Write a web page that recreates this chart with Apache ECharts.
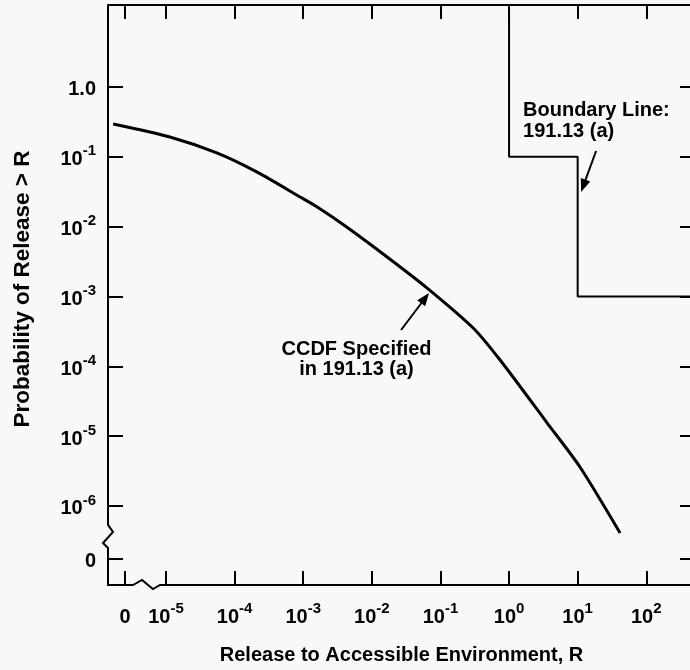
<!DOCTYPE html>
<html><head><meta charset="utf-8">
<script src="https://cdn.jsdelivr.net/npm/echarts@6/dist/echarts.min.js"></script>
<style>html,body{margin:0;padding:0;background:#f8f8f8}#c{width:690px;height:670px}</style>
</head><body><div id="c"></div>
<script>
// ---- data (real values; plotted on log10 scale) ----
const ccdfR = [1.7e-6, 1.14e-5, 5.5e-5, 2.1e-4, 9.0e-4, 1.6e-3, 4.3e-3, 1.67e-2, 6.4e-2, 0.30, 0.74, 3.6, 10.8, 41.5];
const ccdfP = [0.295, 0.192, 0.1135, 0.0607, 0.0266, 0.0191, 0.00989, 0.00368, 0.00132, 3.54e-4, 1.23e-4, 1.54e-5, 3.61e-6, 4.1e-7];
const boundaryR = [1, 1, 10, 10, 1000];
const boundaryP = [100, 0.1, 0.1, 0.001, 0.001];
// tick positions (log10 exponents); "0" is drawn at a nominal position below the break
const xTickExps = [-5, -4, -3, -2, -1, 0, 1, 2];
const yTickExps = [-6, -5, -4, -3, -2, -1, 0];
const xZeroPos = -5.598;
const yZeroPos = -6.759;
// axis extents (log10)
const xMin = -5.845, xMax = 2.71;
const yMin = -7.132, yMax = 1.174;
// axis break (log10 units)
const yBreak = [-6.272, -6.373, -6.530, -6.602];
const xBreak = [-5.481, -5.350, -5.190, -5.087];

const FONT = 'Liberation Sans';
const L = v => Math.log10(v);
const xAll = [xZeroPos].concat(xTickExps);
const yAll = [yZeroPos].concat(yTickExps);
const RICH = {
  n: {fontSize: 20, fontWeight: 'bold', fontFamily: FONT, color: '#000', lineHeight: 26, verticalAlign: 'bottom'},
  s: {fontSize: 15, fontWeight: 'bold', fontFamily: FONT, color: '#000', lineHeight: 26, verticalAlign: 'top'}
};
function fmt(zero, isY) {
  return function (v) {
    if (Math.abs(v - zero) < 1e-6) return '{n|0}';
    if (isY && Math.abs(v) < 1e-9) return '{n|1.0}';
    return '{n|10}{s|' + Math.round(v) + '}';
  };
}
const tickStyle = {color: '#000', width: 2};
const chart = echarts.init(document.getElementById('c'));
chart.setOption({
  backgroundColor: '#f8f8f8',
  animation: false,
  textStyle: {fontFamily: FONT},
  grid: {left: 108, top: 5, width: 587, height: 580, show: false, outerBoundsMode: 'none', containLabel: false},
  xAxis: [{
    type: 'value', position: 'bottom', min: xMin, max: xMax,
    axisLine: {show: false, onZero: false},
    splitLine: {show: false},
    axisTick: {show: true, inside: true, length: 14, lineStyle: tickStyle, customValues: xAll},
    axisLabel: {customValues: xAll, formatter: fmt(xZeroPos, false), margin: 16, rich: RICH},
    name: 'Release to Accessible Environment, R', nameLocation: 'middle', nameGap: 60,
    nameTextStyle: {fontSize: 20, fontWeight: 'bold', color: '#000', fontFamily: FONT}
  }, {
    type: 'value', position: 'top', min: xMin, max: xMax,
    axisLine: {show: true, onZero: false, lineStyle: {color: '#000', width: 2}},
    splitLine: {show: false},
    axisTick: {show: true, inside: true, length: 14, lineStyle: tickStyle, customValues: xAll},
    axisLabel: {show: false}
  }],
  yAxis: [{
    type: 'value', position: 'left', min: yMin, max: yMax,
    axisLine: {show: false, onZero: false},
    splitLine: {show: false},
    axisTick: {show: true, inside: true, length: 15, lineStyle: tickStyle, customValues: yAll},
    axisLabel: {customValues: yAll, formatter: fmt(yZeroPos, true), margin: 12, rich: RICH},
    name: 'Probability of Release > R', nameLocation: 'middle', nameGap: 74,
    nameTextStyle: {fontSize: 22.5, fontWeight: 'bold', color: '#000', fontFamily: FONT, padding: [0, 0, 0, 12]}
  }, {
    type: 'value', position: 'right', min: yMin, max: yMax,
    axisLine: {show: true, onZero: false, lineStyle: {color: '#000', width: 2}},
    splitLine: {show: false},
    axisTick: {show: true, inside: true, length: 15, lineStyle: tickStyle, customValues: yAll},
    axisLabel: {show: false}
  }],
  series: [{
    name: 'CCDF', type: 'line', xAxisIndex: 0, yAxisIndex: 0,
    data: ccdfR.map((r, i) => [L(r), L(ccdfP[i])]),
    showSymbol: false, smooth: 0.25, silent: true,
    lineStyle: {color: '#000', width: 3}
  }, {
    name: 'Boundary', type: 'line', xAxisIndex: 0, yAxisIndex: 0,
    data: boundaryR.map((r, i) => [L(r), L(boundaryP[i])]),
    showSymbol: false, silent: true,
    lineStyle: {color: '#000', width: 2}
  }]
});

// ---- decorations: broken axes, annotations ----
const px = (x, y) => chart.convertToPixel({gridIndex: 0}, [x, y]);
const X = x => px(x, 0)[0];
const Y = y => px(0, y)[1];
const ax = X(xMin), ay = Y(yMin);
const axisPts = [
  [ax, Y(yMax)], [ax, Y(yBreak[0])], [ax + 5, Y(yBreak[1])], [ax - 5, Y(yBreak[2])], [ax, Y(yBreak[3])],
  [ax, ay], [X(xBreak[0]), ay], [X(xBreak[1]), ay - 5], [X(xBreak[2]), ay + 4], [X(xBreak[3]), ay], [X(xMax), ay]
];
function arrow(tail, tip) {
  const dx = tip[0] - tail[0], dy = tip[1] - tail[1];
  const len = Math.hypot(dx, dy), ux = dx / len, uy = dy / len;
  const hl = 13, hw = 5;
  const base = [tip[0] - ux * hl, tip[1] - uy * hl];
  return [{
    type: 'line', shape: {x1: tail[0], y1: tail[1], x2: base[0] + ux * 2, y2: base[1] + uy * 2},
    style: {stroke: '#000', lineWidth: 2}
  }, {
    type: 'polygon', shape: {points: [tip, [base[0] - uy * hw, base[1] + ux * hw], [base[0] + uy * hw, base[1] - ux * hw]]},
    style: {fill: '#000'}
  }];
}
const ccdfTxt = px(-2.223, -3.614);
const bndTxt = px(0.204, -0.186);
const textFont = 'bold 20px "Liberation Sans"';
chart.setOption({
  graphic: [
    {type: 'polyline', shape: {points: axisPts}, style: {stroke: '#000', lineWidth: 2, fill: null, lineJoin: 'miter'}, z: 10},
    {type: 'text', x: ccdfTxt[0], y: ccdfTxt[1], style: {text: 'CCDF Specified\nin 191.13 (a)', font: textFont, fill: '#000', textAlign: 'center', textVerticalAlign: 'top', lineHeight: 20}, z: 10},
    {type: 'text', x: bndTxt[0], y: bndTxt[1], style: {text: 'Boundary Line:\n191.13 (a)', font: textFont, fill: '#000', textAlign: 'left', textVerticalAlign: 'top', lineHeight: 21}, z: 10}
  ].concat(arrow(px(-1.574, -3.48), px(-1.166, -2.95)), arrow(px(1.268, -0.917), px(1.05, -1.504)))
});
</script></body></html>
